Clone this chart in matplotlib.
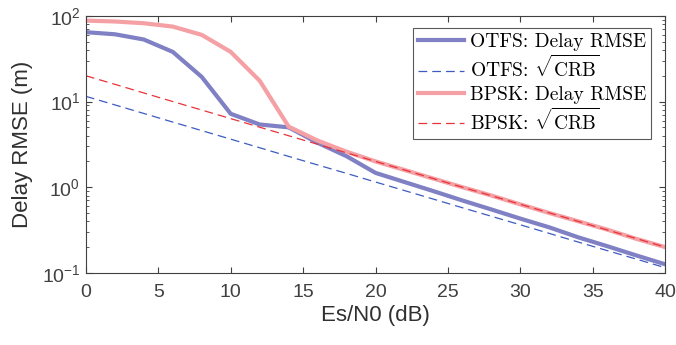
import matplotlib
matplotlib.use("Agg")
import matplotlib.pyplot as plt
import numpy as np

snr = [0, 2, 4, 6, 8, 10, 12, 14, 16, 18, 20, 22, 24, 26, 28, 30, 32, 34, 36, 38, 40]
otfs_rmse = [64.5, 61, 53, 38, 19.4, 7.2, 5.4, 5.0, 3.3, 2.3, 1.47, 1.15, 0.90, 0.70, 0.55, 0.43, 0.34, 0.26, 0.205, 0.16, 0.126]
otfs_crb = [11.5, 9.14, 7.26, 5.76, 4.58, 3.64, 2.89, 2.29, 1.82, 1.45, 1.15, 0.914, 0.726, 0.576, 0.458, 0.364, 0.289, 0.229, 0.182, 0.145, 0.115]
bpsk_rmse = [88, 86, 82, 75, 60, 38, 17.5, 5.1, 3.5, 2.6, 2.0, 1.59, 1.26, 1.0, 0.80, 0.63, 0.50, 0.40, 0.32, 0.25, 0.20]
bpsk_crb = [20, 15.9, 12.6, 10.0, 7.96, 6.32, 5.02, 3.99, 3.17, 2.52, 2.0, 1.59, 1.26, 1.0, 0.796, 0.632, 0.502, 0.399, 0.317, 0.252, 0.20]

labels = ['OTFS: Delay RMSE', r'OTFS: $\sqrt{\mathrm{CRB}}$',
          'BPSK: Delay RMSE', r'BPSK: $\sqrt{\mathrm{CRB}}$']

plt.rcParams['mathtext.fontset'] = 'cm'
plt.rcParams['font.family'] = ['Liberation Sans', 'DejaVu Sans']

fig = plt.figure(figsize=(6.76, 3.45), dpi=100)
ax = fig.add_axes([0.127, 0.209, 0.857, 0.745])

ax.semilogy(snr, otfs_rmse, color='#8080C4', lw=3, label=labels[0])
ax.semilogy(snr, otfs_crb, color='#3D5BC0', lw=0.9, ls=(0, (7, 4)), label=labels[1])
ax.semilogy(snr, bpsk_rmse, color='#F4A0A4', lw=3, label=labels[2])
ax.semilogy(snr, bpsk_crb, color='#E8333A', lw=0.9, ls=(0, (7, 4)), label=labels[3])

ax.set_xlim(0, 40)
ax.set_ylim(0.1, 100)
ax.set_xticks([0, 5, 10, 15, 20, 25, 30, 35, 40])
ax.tick_params(which='both', direction='in', top=True, right=True, colors='#404040', labelsize=14)
ax.tick_params(which='major', length=4.5)
ax.tick_params(which='minor', length=2.5)
ax.tick_params(axis='x', which='major', pad=8)
ax.tick_params(axis='y', which='major', pad=4)
for s in ax.spines.values():
    s.set_color('#404040')
ax.set_xlabel('Es/N0 (dB)', fontsize=16, color='#303030', labelpad=3)
ax.set_ylabel('Delay RMSE (m)', fontsize=16, color='#303030', labelpad=6)

leg = ax.legend(loc='upper right', frameon=True, fancybox=False,
                prop={'family': 'cmr10', 'size': 14},
                edgecolor='#303030', handlelength=2.4, borderpad=0.25, labelspacing=0.22,
                handletextpad=0.3, borderaxespad=0.0, bbox_to_anchor=(0.976, 0.953))
leg.get_frame().set_linewidth(0.8)

fig.savefig('out.png', dpi=100)
